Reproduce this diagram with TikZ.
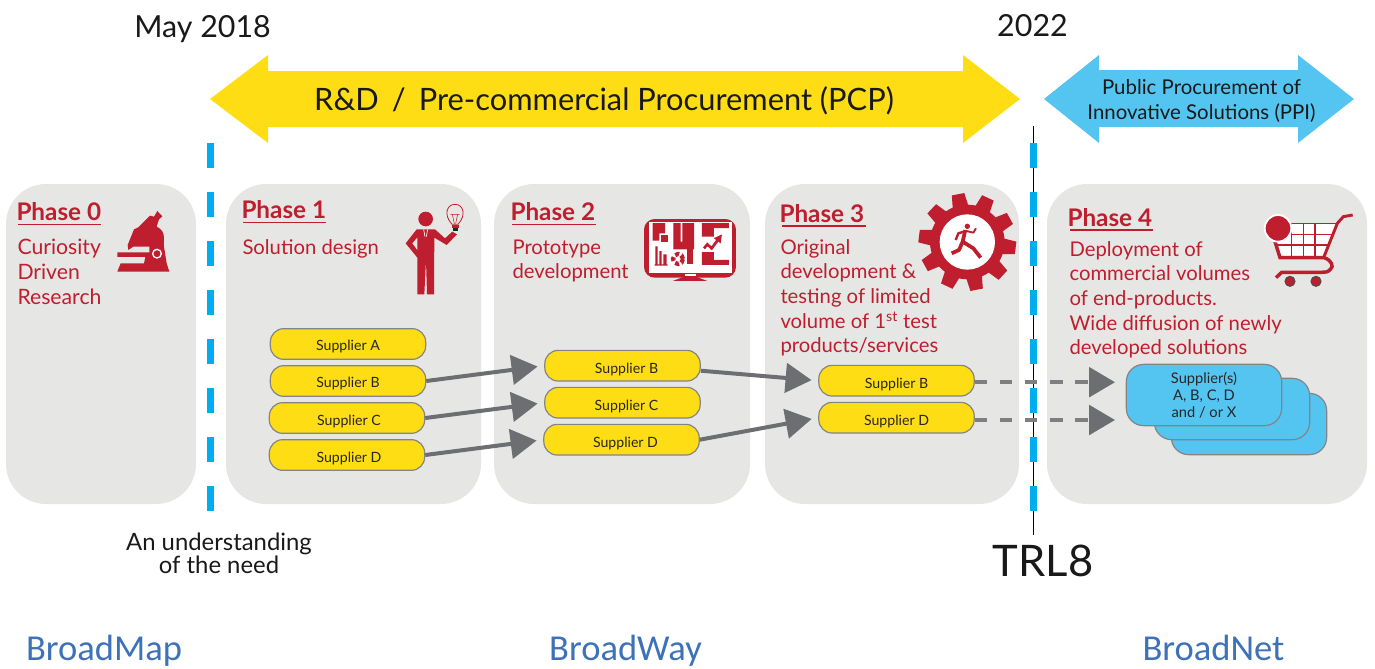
\documentclass[tikz,border=0pt]{standalone}
\usepackage{fontspec}
\setmainfont{Lato}
\newfontfamily\brandfont{Carlito}
\usetikzlibrary{arrows.meta,calc}

\definecolor{phasered}{RGB}{190,30,45}
\definecolor{panelgrey}{RGB}{230,231,229}
\definecolor{boxyellow}{RGB}{255,221,21}
\definecolor{boxblue}{RGB}{84,197,241}
\definecolor{dashblue}{RGB}{0,174,239}
\definecolor{flowgrey}{RGB}{109,110,113}
\definecolor{brandblue}{RGB}{61,113,184}

\tikzset{every picture/.style={line width=0.75pt}}
\tikzset{
  panelbox/.style={fill=panelgrey,draw=none,rounded corners=30},
  supplierbox/.style={draw=flowgrey!85,line width=0.9pt,fill=boxyellow,rounded corners=10,minimum width=116.5pt,minimum height=23pt,inner sep=0pt,text height=11pt,text depth=1.9pt,font=\fontsize{10.6}{12}\selectfont,text=black!85},
  stackbox/.style={draw=flowgrey!85,line width=0.9pt,fill=boxblue,rounded corners=13,minimum width=116.5pt,minimum height=46pt,inner sep=0pt},
  phasehead/.style={anchor=north west,inner sep=0.75pt,align=left,text=phasered,font=\fontsize{18.2}{22}\bfseries\selectfont},
  phasetext/.style={anchor=north west,inner sep=0.75pt,align=left,text=phasered,font=\fontsize{15.2}{18.4}\selectfont},
  headline/.style={draw=phasered,line width=0.9pt},
  timetext/.style={inner sep=0.75pt,align=center,text=black!90},
  brandtext/.style={anchor=base,inner sep=0.75pt,text=brandblue,font=\fontsize{27.4}{30}\brandfont\selectfont},
  phaseline/.style={draw=dashblue,line width=4.9pt,dash pattern=on 18.4pt off 18.4pt},
  flow/.style={draw=flowgrey,line width=3pt,-{Triangle[length=19.5pt,width=22pt]},shorten >=5pt},
  flowdash/.style={draw=flowgrey!88,line width=3.4pt,dash pattern=on 9.4pt off 9.4pt,-{Triangle[length=19.5pt,width=22pt,color=flowgrey]},shorten >=8pt},
  iconred/.style={fill=phasered,draw=none},
}

\begin{document}
\begin{tikzpicture}[x=0.75pt,y=0.75pt,yscale=-1,xscale=1]
        \useasboundingbox (0,0) rectangle (1375,668);

        %Shape: Rounded Rect
        \draw [panelbox] (6,184) rectangle (196,504);
        \draw [panelbox] (226,184) rectangle (481,504);
        \draw [panelbox] (494,184) rectangle (750,504);
        \draw [panelbox] (765,184) rectangle (1019,504);
        \draw [panelbox] (1047,184) rectangle (1367,504);

        %Shape: Double Arrow
        \draw [fill=boxyellow,draw=none] (210,99) -- (268,55) -- (268,71) -- (963,71) -- (963,55) -- (1020,99) -- (963,143) -- (963,127) -- (268,127) -- (268,143) -- cycle;
        \draw [fill=boxblue,draw=none] (1044,99) -- (1099,55) -- (1099,70) -- (1298,70) -- (1298,55) -- (1354,99) -- (1298,143) -- (1298,127) -- (1099,127) -- (1099,143) -- cycle;

        %Straight Lines
        \draw [black,line width=0.9pt] (1033.5,126) -- (1033.5,535);
        \draw [phaseline] (210.5,143) -- (210.5,512);
        \draw [phaseline] (1033.5,143) -- (1033.5,512);

        % Text Node
        \draw (604,101) node (pcp) [inner sep=0.75pt,font=\fontsize{23.1}{28}\selectfont,text=black!90] {R\&D\,\ /\,\ Pre-commercial Procurement (PCP)};
        % Text Node
        \draw (1201.5,101) node (ppi) [inner sep=0.75pt,align=center,font=\fontsize{15.3}{18.6}\selectfont,text=black!90] {Public Procurement of\\Innovative Solutions (PPI)};
        % Text Node
        \draw (202.5,29) node (may) [timetext,font=\fontsize{22.8}{26}\selectfont] {May 2018};
        % Text Node
        \draw (1032.5,26) node (end) [timetext,font=\fontsize{22.8}{26}\selectfont] {2022};
        % Text Node
        \draw (219,553) node (need) [timetext,font=\fontsize{17.9}{17.4}\selectfont] {An understanding\\of the need};
        % Text Node
        \draw (1043,561) node (trl) [timetext,font=\fontsize{32.6}{34}\selectfont] {TRL8};
        % Text Node
        \draw (104,660) node (map) [brandtext] {BroadMap};
        \draw (625.5,660) node (way) [brandtext] {BroadWay};
        \draw (1213.5,660) node (net) [brandtext] {BroadNet};

        % Text Node
        \draw (15,201) node (ph0) [phasehead] {Phase 0};
        \draw (16,238) node (tx0) [phasetext,font=\fontsize{15.9}{18.4}\selectfont] {Curiosity\\Driven\\Research};
        \draw [headline] (18,224.3) -- (101,224.3);
        \draw (240,199) node (ph1) [phasehead] {Phase 1};
        \draw (241,238) node (tx1) [phasetext] {Solution design};
        \draw [headline] (243,222.5) -- (326,222.5);
        \draw (509,201) node (ph2) [phasehead] {Phase 2};
        \draw (511,238) node (tx2) [phasetext] {Prototype\\development};
        \draw [headline] (512,224.3) -- (595.5,224.3);
        \draw (778,203) node (ph3) [phasehead] {Phase 3};
        \draw (779,238) node (tx3) [phasetext] {Original\\development \&\\testing of limited\\volume of 1\textsuperscript{st} test\\products/services};
        \draw [headline] (782,226) -- (866,226);
        \draw (1066,207) node (ph4) [phasehead] {Phase 4};
        \draw (1068,240) node (tx4) [phasetext] {Deployment of\\commercial volumes\\of end-products.\\Wide diffusion of newly\\developed solutions};
        \draw [headline] (1070,230) -- (1152.7,230);

        % Supplier boxes
        \draw (348,344) node (a1) [supplierbox] {Supplier A};
        \draw (348,381) node (b1) [supplierbox] {Supplier B};
        \draw (347,418) node (c1) [supplierbox,text height=12.5pt] {\kern3pt Supplier C};
        \draw (347,455) node (d1) [supplierbox,text height=12.5pt] {\kern3pt Supplier D};
        \draw (622.5,365.7) node (b2) [supplierbox,text height=14pt] {\kern6pt Supplier B};
        \draw (622.5,402.7) node (c2) [supplierbox,text height=14pt] {\kern6pt Supplier C};
        \draw (621.5,439.7) node (d2) [supplierbox,text height=14pt] {\kern6pt Supplier D};
        \draw (896.5,380.7) node (b3) [supplierbox,text height=13.2pt] {Supplier B};
        \draw (896.5,417.7) node (d3) [supplierbox,text height=13.2pt] {Supplier D};

        %Shape: Rounded Rect
        \draw (1249,424) node (back) [stackbox] {};
        \draw (1232,409) node (mid) [stackbox] {};
        \draw (1204,395) node (front) [stackbox,align=center,font=\fontsize{11}{12.5}\selectfont,text=black!85] {Supplier(s)\\A, B, C, D\\and / or X};

        %Straight Lines
        \draw [flow] (b1.east) -- (b2.west);
        \draw [flow] (c1.east) -- (c2.west);
        \draw [flow] (d1.east) -- (d2.west);
        \draw [flow] ($(b2.east)+(0,5)$) -- (b3.west);
        \draw [flow] (d2.east) -- (d3.west);
        \draw [flowdash] ($(b3.east)+(0,1.5)$) -- ($(b3.east -| front.west)+(0,1.5)$);
        \draw [flowdash] ($(d3.east)+(0,2.3)$) -- ($(d3.east -| front.west)+(0,2.3)$);

        %Shape: Microscope
        \begin{scope}[shift={(100,195)},scale=0.3333]
          \fill [iconred] (172,48) -- (187,64) -- (177,73) -- (170,95) .. controls (185,102) and (192,112) .. (192,130) -- (192,155) -- (200,205) -- (208,230) -- (52,230) -- (62,205) -- (132,205) -- (136,186) -- (52,186) -- (52,172) -- (148,172) -- (148,155) -- (100,155) -- (85,165) -- (83,150) -- (102,103) -- (115,97) -- (150,62) -- (162,65) -- cycle;
          \draw [white,line width=1pt] (171,176) circle (13);
        \end{scope}

        %Shape: Man with bulb
        \begin{scope}[shift={(395,195)},scale=0.3333]
          \fill [iconred] (92,72) circle (22);
          \fill [iconred] (65,103) -- (120,103) -- (150,130) -- (172,110) -- (186,118) -- (155,150) -- (118,128) -- (117,298) -- (96,298) -- (93,195) -- (88,298) -- (67,298) -- (67,188) -- (32,145) -- cycle;
          \fill [panelgrey] (67,128) -- (52,145) -- (67,165) -- cycle;
          \draw [white,line width=0.5pt] (86,103) -- (90,125) (98,103) -- (94,125);
          \draw [phasered,line width=0.6pt] (171,88) .. controls (145,60) and (155,28) .. (180,28) .. controls (205,28) and (215,60) .. (189,88) -- cycle;
          \draw [phasered,line width=0.4pt] (172,58) -- (178,86) (188,58) -- (182,86) (166,58) -- (194,58);
          \fill [iconred] (170,90) rectangle (192,100);
          \fill [black!85] (174,100) rectangle (188,108);
        \end{scope}

        %Shape: Monitor
        \begin{scope}[shift={(630,205)},scale=0.3333]
          \fill [iconred,rounded corners=8] (42,42) rectangle (318,218);
          \fill [iconred] (160,216) -- (200,216) -- (232,228) -- (128,228) -- cycle;
          \fill [white] (58,50) rectangle (305,203);
          \fill [white] (165,207) rectangle (197,212);
          \fill [iconred] (68,54) -- (105,54) -- (105,85) -- (88,85) -- (88,107) -- (68,107) -- cycle;
          \fill [iconred] (92,90) rectangle (113,110);
          \fill [iconred] (130,54) rectangle (152,133) (157,54) rectangle (192,133) (152,110) rectangle (157,133);
          \fill [iconred] (76,124) rectangle (83,182) (88,138) rectangle (95,182) (100,148) rectangle (110,182) (74,178) rectangle (113,182);
          \draw [phasered,line width=3.2pt,dash pattern=on 3pt off 2pt] (144,162) circle (15);
          \fill [iconred] (172,133) rectangle (188,178);
          \fill [iconred] (216,54) rectangle (297,69) (216,54) rectangle (252,95) (216,141) rectangle (252,180) (216,165) rectangle (297,180);
          \draw [phasered,line width=2pt,-{Triangle[length=6pt,width=6pt]}] (222,130) -- (232,118) -- (245,130) -- (276,88);
        \end{scope}

        %Shape: Gear with runner
        \begin{scope}[shift={(890,190)},scale=0.3333]
          \fill [iconred] (232,156) circle (112);
          \foreach \a in {-101,-65,...,223} {
            \fill [iconred,shift={(232,156)},rotate=\a] (105,-24) -- (146,-19) -- (146,19) -- (105,24) -- cycle;
          }
          \fill [white] (232,156) circle (83);
          \fill [iconred] (232,109) circle (8);
          \draw [phasered,line width=2.8pt,line join=round] (226,120) -- (218,155) -- (207,180) -- (185,190);
          \draw [phasered,line width=2.8pt,line join=round] (218,155) -- (250,175) -- (272,203);
          \draw [phasered,line width=1.8pt,line join=round] (222,125) -- (205,130) -- (197,150);
          \draw [phasered,line width=1.4pt,line join=round] (225,122) -- (250,128) -- (258,115);
        \end{scope}

        %Shape: Cart
        \begin{scope}[shift={(1250,205)},scale=0.3333]
          \fill [white] (80,55) -- (262,55) -- (222,155) -- (90,155) -- cycle;
          \draw [phasered,line width=0.9pt] (80,55) -- (262,55) (76,88) -- (249,88) (80,120) -- (236,120) (125,55) -- (125,152) (160,55) -- (160,152) (195,55) -- (195,152);
          \draw [phasered,line width=2.2pt] (222,155) -- (262,55) -- (280,35) -- (308,30);
          \draw [phasered,line width=2.6pt] (75,110) -- (90,158) -- (222,158) .. controls (245,165) and (252,185) .. (242,192) .. controls (235,202) and (225,202) .. (215,202) -- (95,202) -- (78,218);
          \fill [iconred,draw=white,line width=1.4pt] (84,70) circle (40);
          \fill [iconred,draw=black!70,line width=0.8pt] (120,229) circle (15);
          \fill [iconred,draw=black!70,line width=0.8pt] (198,229) circle (15);
        \end{scope}

\end{tikzpicture}
\end{document}
